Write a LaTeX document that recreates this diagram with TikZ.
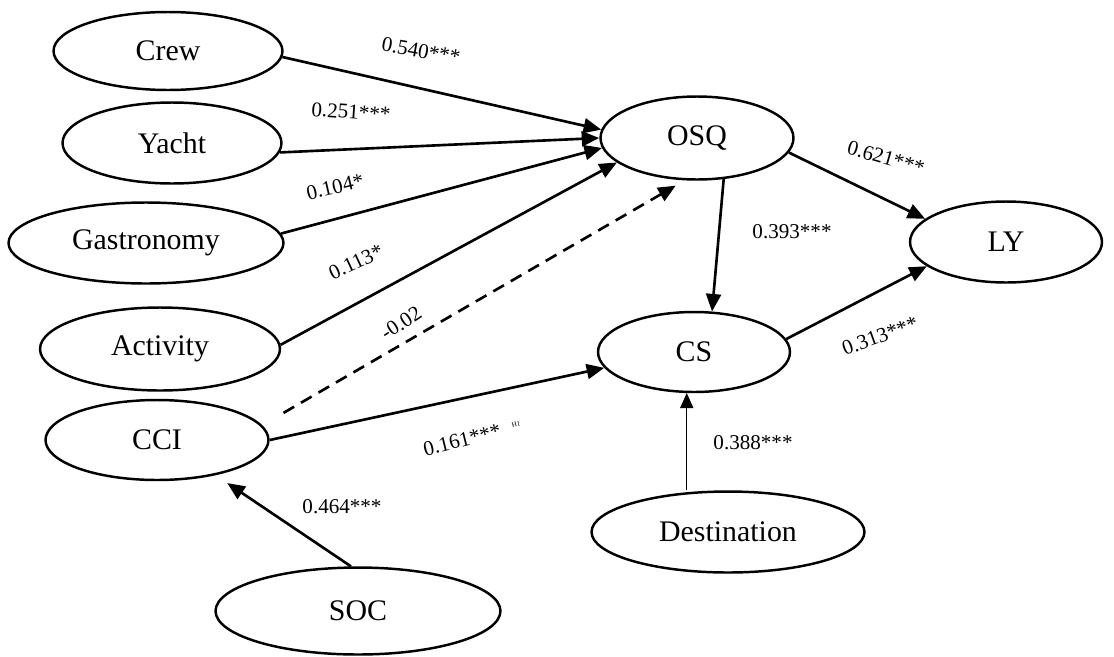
\documentclass[tikz,border=0pt]{standalone}
\usepackage{fontspec}
\setmainfont{Liberation Serif}
\usetikzlibrary{shapes.geometric,arrows.meta}

\begin{document}
\begin{tikzpicture}[x=0.02cm,y=-0.02cm,
  construct/.style={draw,ellipse,line width=1.4pt,inner sep=0pt,font=\fontsize{17}{20}\selectfont},
  path/.style={line width=1.5pt,-{Triangle[length=10pt,width=8.5pt]}},
  weak/.style={line width=0.6pt,-{Triangle[length=8.5pt,width=7.5pt]}},
  coef/.style={font=\fontsize{12}{14}\selectfont,inner sep=0pt}]
\useasboundingbox (0,0) rectangle (1114,656);

% constructs
\node[construct,minimum width=4.58cm,minimum height=1.56cm] (crew) at (168,51) {Crew};
\node[construct,minimum width=4.38cm,minimum height=1.62cm] (yacht) at (172,143) {Yacht};
\node[construct,minimum width=5.5cm,minimum height=1.62cm] (gastro) at (146,243) {Gastronomy};
\node[construct,minimum width=4.8cm,minimum height=1.66cm] (activity) at (160,349) {Activity};
\node[construct,minimum width=4.46cm,minimum height=1.6cm] (cci) at (157,440) {CCI};
\node[construct,minimum width=5.7cm,minimum height=1.74cm] (soc) at (358,611) {SOC};
\node[construct,minimum width=3.86cm,minimum height=1.66cm] (osq) at (697,138) {OSQ};
\node[construct,minimum width=3.84cm,minimum height=1.6cm] (cs) at (694,352) {CS};
\node[construct,minimum width=3.84cm,minimum height=1.62cm] (ly) at (1006,242) {LY};
\node[construct,minimum width=5.46cm,minimum height=1.62cm] (dest) at (728,532) {Destination};

% paths
\draw[path] (crew.-3) -- (osq.175);
\draw[path] (yacht.-5) -- (osq.west);
\draw[path] (gastro.4) -- (osq.186);
\draw[path] (activity.2) -- (osq.197);
\draw[path,dash pattern=on 7pt off 4.5pt,shorten <=14pt,shorten >=6pt] (cci.8) -- (osq.254);
\draw[path] (cci.east) -- (cs.190);
\draw[path] (osq.-57) -- (cs.66);
\draw[path] (osq.-9) -- (ly.164);
\draw[path] (cs.8) -- (ly.197);
\draw[weak] (dest.north -| cs.260) -- (cs.260);
\draw[path,shorten >=8pt] (soc.99) -- (cci.-31);

% coefficients
\node[coef,rotate=-10] (c1) at (421,51) {0.540***};
\node[coef,rotate=-4] (c2) at (351,112) {0.251***};
\node[coef,rotate=13] (c3) at (335,187) {0.104*};
\node[coef,rotate=25] (c4) at (356,262) {0.113*};
\node[coef,rotate=33] (c5) at (401,323) {-0.02};
\node[coef,rotate=14] (c6) at (462,440) {0.161***};
\node[font=\fontsize{4}{5}\selectfont,inner sep=0pt,rotate=14] (h1) at (516,424) {H1};
\node[coef] (c7) at (792,232) {0.393***};
\node[coef,rotate=-16] (c8) at (886,158) {0.621***};
\node[coef,rotate=20] (c9) at (880,336) {0.313***};
\node[coef] (c10) at (753,443) {0.388***};
\node[coef] (c11) at (342,507) {0.464***};

\end{tikzpicture}
\end{document}
